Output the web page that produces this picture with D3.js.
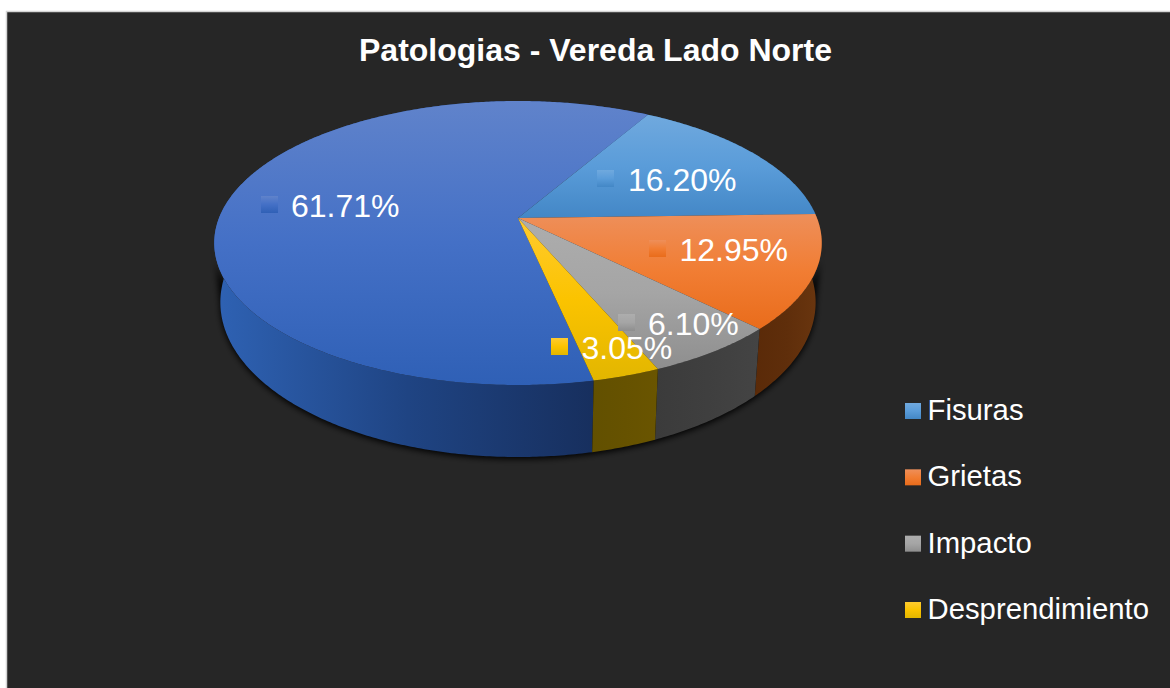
<!DOCTYPE html>
<html lang="es">

<head>
  <meta charset="UTF-8">
  <title>Patologias - Vereda Lado Norte</title>
  <script src="https://d3js.org/d3.v7.min.js"></script>
  <style>
    html, body { margin: 0; background: #fff; overflow: hidden; }
    svg { display: block; }
    text { font-family: "Liberation Sans", Arial, sans-serif; fill: #fff; }
  </style>
</head>

<body>
  <div class="chartContainer"></div>

  <script>
    // data (first slice has no legend entry in the reference)
    const title = 'Patologias - Vereda Lado Norte'
    const categories = ['', 'Fisuras', 'Grietas', 'Impacto', 'Desprendimiento']
    const values = [61.71, 16.20, 12.95, 6.10, 3.05]

    // styles, one per slice
    const topStops = [
      ['#6083cb', '#4470c6', '#2f60b6'],
      ['#70a9de', '#5a9cd9', '#4387c6'],
      ['#ee8f5a', '#f17d33', '#e96c1b'],
      ['#adadad', '#a5a5a5', '#8e8e8e'],
      ['#ffcb30', '#fbc300', '#e2b600']
    ]
    const sideStops = [
      ['#2e61b2', '#1f4483', '#172f5e'],
      ['#2f5f8c', '#2a5580', '#264c72'],
      ['#5a2a08', '#5f2e0b', '#6a360f'],
      ['#3b3b3b', '#3f3f3f', '#444444'],
      ['#625000', '#665200', '#6a5500']
    ]
    const sideRange = [[222, 594], [600, 800], [754, 820], [655, 760], [592, 659]]
    // key square left edge and text baseline of every data label
    const labelSpots = [[261, 217], [597, 191], [649, 261], [618, 335], [551, 359]]
    const labelGaps = [30, 31, 30.5, 30, 30.5]

    const width = 1170, height = 688
    const tilt = 0.176 // how much the near edge grows towards the viewer
    const startDeg = 167.9

    const svg = d3.select('.chartContainer')
      .append('svg')
      .attr('width', width)
      .attr('height', height)

    const defs = svg.append('defs')

    // perspective: unit circle -> screen
    const persp = (u, v) => [u / (1 - tilt * v), v / (1 - tilt * v)]
    const topX = d3.scaleLinear().domain([-1, 1]).range([518 - 299, 518 + 299])
    const topY = d3.scaleLinear().domain([-1, 1]).range([218 - 137.6, 218 + 137.6])
    const baseX = d3.scaleLinear().domain([-1, 1]).range([518 - 293, 518 + 293])
    const baseY = d3.scaleLinear().domain([-1, 1]).range([275 - 150, 275 + 150])

    const rimPoint = (a, sx, sy) => {
      const p = persp(Math.sin(a), -Math.cos(a))
      return [sx(p[0]), sy(p[1])]
    }
    const anglesOf = (a0, a1) => {
      const n = Math.max(2, Math.ceil((a1 - a0) / 0.01))
      return d3.range(n + 1).map(i => a0 + (a1 - a0) * i / n)
    }

    const pie = d3.pie().sort(null)
      .startAngle(startDeg * Math.PI / 180)
      .endAngle(startDeg * Math.PI / 180 + 2 * Math.PI)
    const slices = pie(values)
    const line = d3.line()

    // wall as a row of quads, so the outline also covers the tangent at the far left and right
    const wallPath = (a0, a1) => {
      const as = anglesOf(a0, a1)
      return d3.pairs(as).map(([p, q]) => line([
        rimPoint(p, topX, topY), rimPoint(q, topX, topY),
        rimPoint(q, baseX, baseY), rimPoint(p, baseX, baseY)
      ]) + 'Z').join('')
    }

    // gradients
    topStops.forEach((stops, i) => {
      const g = defs.append('linearGradient').attr('id', 'top' + i)
        .attr('x1', 0).attr('y1', 0).attr('x2', 0).attr('y2', 1)
      stops.forEach((c, j) => g.append('stop').attr('offset', j / 2).attr('stop-color', c))
    })
    sideStops.forEach((stops, i) => {
      const g = defs.append('linearGradient').attr('id', 'side' + i)
        .attr('gradientUnits', 'userSpaceOnUse')
        .attr('x1', sideRange[i][0]).attr('y1', 0).attr('x2', sideRange[i][1]).attr('y2', 0)
      stops.forEach((c, j) => g.append('stop').attr('offset', j / 2).attr('stop-color', c))
    })
    const blur = defs.append('filter').attr('id', 'shadow')
      .attr('x', '-10%').attr('y', '-10%').attr('width', '120%').attr('height', '120%')
    blur.append('feGaussianBlur').attr('stdDeviation', 3)

    // background
    svg.append('rect')
      .attr('x', 6.5).attr('y', 11.5)
      .attr('width', width).attr('height', height)
      .attr('fill', '#262626')
      .attr('stroke', '#d4d4d4')
      .attr('stroke-width', 1.5)

    // title
    svg.append('text')
      .attr('x', 595.5).attr('y', 61)
      .attr('text-anchor', 'middle')
      .attr('font-size', 32)
      .attr('font-weight', 'bold')
      .text(title)

    // shadow under the front of the base only
    svg.append('path')
      .attr('d', wallPath(100 * Math.PI / 180, 260 * Math.PI / 180))
      .attr('transform', 'translate(0,2)')
      .attr('fill', '#000')
      .attr('filter', 'url(#shadow)')

    // side walls, the top faces cover the far part
    svg.append('g').selectAll('path')
      .data(slices)
      .enter()
      .append('path')
      .attr('d', d => wallPath(d.startAngle, d.endAngle))
      .attr('fill', (d, i) => `url(#side${i})`)

    // top faces
    svg.append('g').selectAll('path')
      .data(slices)
      .enter()
      .append('path')
      .attr('d', d => {
        const rim = anglesOf(d.startAngle, d.endAngle).map(a => rimPoint(a, topX, topY))
        return line([[topX(0), topY(0)]].concat(rim)) + 'Z'
      })
      .attr('fill', (d, i) => `url(#top${i})`)

    // data labels
    const labels = svg.append('g').selectAll('g')
      .data(values)
      .enter()
      .append('g')
      .attr('transform', (d, i) => `translate(${labelSpots[i][0]},${labelSpots[i][1]})`)
    labels.append('rect')
      .attr('y', -21)
      .attr('width', 17).attr('height', 17)
      .attr('fill', (d, i) => `url(#top${i})`)
    labels.append('text')
      .attr('x', (d, i) => labelGaps[i])
      .attr('font-size', 32)
      .text(d => d3.format('.2f')(d) + '%')

    // legend
    const legendItems = categories.map((c, i) => ({ name: c, i })).filter(d => d.name)
    const legendY = d3.scalePoint()
      .domain(legendItems.map(d => d.name))
      .range([420, 619])
    const legend = svg.append('g').selectAll('g')
      .data(legendItems)
      .enter()
      .append('g')
      .attr('transform', d => `translate(905,${legendY(d.name)})`)
    legend.append('rect')
      .attr('y', -17)
      .attr('width', 16).attr('height', 16)
      .attr('fill', d => `url(#top${d.i})`)
    legend.append('text')
      .attr('x', 22.5)
      .attr('font-size', 29.3)
      .text(d => d.name)
  </script>
</body>

</html>
